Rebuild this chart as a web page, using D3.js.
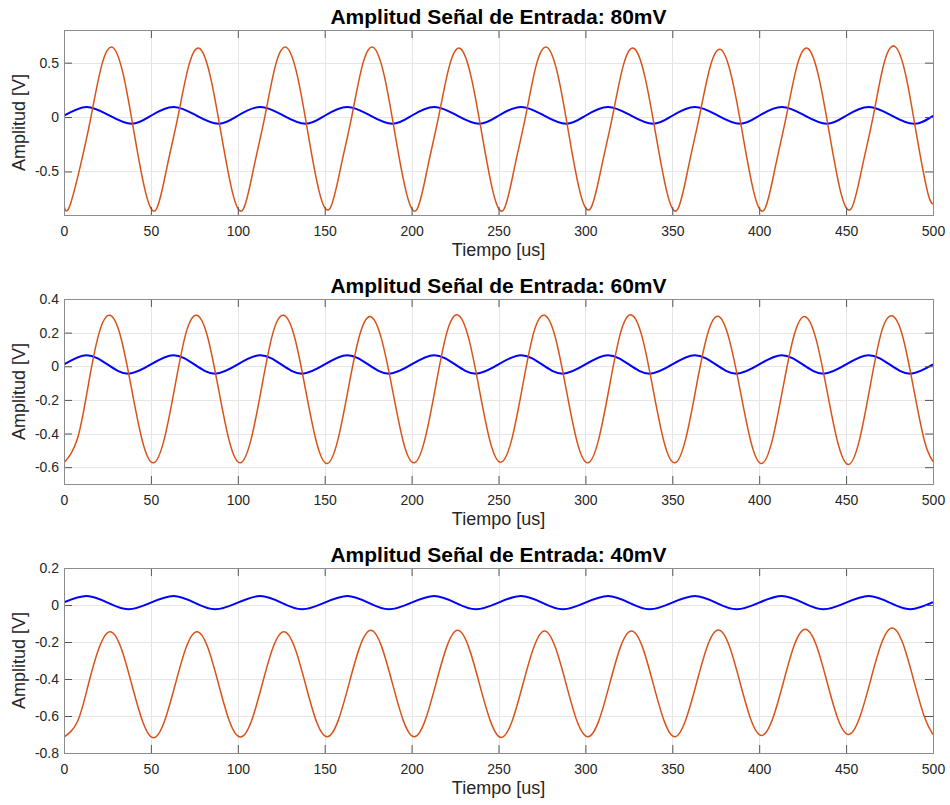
<!DOCTYPE html>
<html>
<head>
<meta charset="utf-8">
<script src="https://cdn.jsdelivr.net/npm/d3@7"></script>
<style>
body { margin: 0; background: #fff; }
svg text { font-family: "Liberation Sans", Arial, Helvetica, sans-serif; }
</style>
</head>
<body>
<svg id="chart" width="950" height="805"></svg>
<script>
// ---- data (tiempo in us, amplitud in V) ----
const xTicks = [0, 50, 100, 150, 200, 250, 300, 350, 400, 450, 500];
const yTicks80 = [-0.5, 0, 0.5];
const yTicks60 = [-0.6, -0.4, -0.2, 0, 0.2, 0.4];
const yTicks40 = [-0.8, -0.6, -0.4, -0.2, 0, 0.2];

// 80 mV input (blue = entrada, orange = salida)
const tiempoEntrada80 = [0, 13, 26, 39, 50, 63, 76, 89, 100, 113, 126, 139, 150, 163, 176, 189,
	200, 213, 226, 239, 250, 263, 276, 289, 300, 313, 326, 339, 350, 363, 376, 389,
	400, 413, 426, 439, 450, 463, 476, 489, 500];
const entrada80 = [0.012, 0.093, 0.015, -0.062, 0.012, 0.093, 0.015, -0.062, 0.012, 0.093, 0.015, -0.062,
	0.012, 0.093, 0.015, -0.062, 0.012, 0.093, 0.015, -0.062, 0.012, 0.093, 0.015, -0.062,
	0.012, 0.093, 0.015, -0.062, 0.012, 0.093, 0.015, -0.062, 0.012, 0.093, 0.015, -0.062,
	0.012, 0.093, 0.015, -0.062, 0.012];
const tiempoSalida80 = [0,
	3, 9.25, 15.5, 21.75, 28, 34.25, 40.5, 46.75,
	53, 59.25, 65.5, 71.75, 78, 84.25, 90.5, 96.75,
	103, 109.25, 115.5, 121.75, 128, 134.25, 140.5, 146.75,
	153, 159.25, 165.5, 171.75, 178, 184.25, 190.5, 196.75,
	203, 209.25, 215.5, 221.75, 228, 234.25, 240.5, 246.75,
	253, 259.25, 265.5, 271.75, 278, 284.25, 290.5, 296.75,
	303, 309.25, 315.5, 321.75, 328, 334.25, 340.5, 346.75,
	353, 359.25, 365.5, 371.75, 378, 384.25, 390.5, 396.75,
	403, 409.25, 415.5, 421.75, 428, 434.25, 440.5, 446.75,
	453, 459.25, 465.5, 471.75, 478, 484.25, 490.5, 496.75,
	500];
const salida80 = [-0.82,
	-0.83, -0.46, 0.00, 0.48, 0.64, 0.38, -0.16, -0.68,
	-0.85, -0.46, 0.00, 0.47, 0.63, 0.37, -0.16, -0.68,
	-0.85, -0.46, 0.00, 0.48, 0.64, 0.38, -0.16, -0.68,
	-0.84, -0.46, 0.00, 0.48, 0.64, 0.38, -0.16, -0.68,
	-0.85, -0.46, 0.00, 0.47, 0.63, 0.37, -0.16, -0.68,
	-0.85, -0.46, 0.00, 0.48, 0.64, 0.38, -0.16, -0.68,
	-0.84, -0.46, 0.00, 0.47, 0.63, 0.37, -0.16, -0.68,
	-0.85, -0.46, 0.00, 0.46, 0.62, 0.36, -0.16, -0.68,
	-0.85, -0.46, 0.00, 0.47, 0.63, 0.37, -0.16, -0.68,
	-0.84, -0.46, 0.00, 0.49, 0.65, 0.39, -0.16, -0.68,
	-0.80];

// 60 mV input
const tiempoEntrada60 = [0, 13, 25, 37, 50, 63, 75, 87, 100, 113, 125, 137, 150, 163, 175, 187,
	200, 213, 225, 237, 250, 263, 275, 287, 300, 313, 325, 337, 350, 363, 375, 387,
	400, 413, 425, 437, 450, 463, 475, 487, 500];
const entrada60 = [0.011, 0.066, 0.011, -0.044, 0.011, 0.066, 0.011, -0.044, 0.011, 0.066, 0.011, -0.044,
	0.011, 0.066, 0.011, -0.044, 0.011, 0.066, 0.011, -0.044, 0.011, 0.066, 0.011, -0.044,
	0.011, 0.066, 0.011, -0.044, 0.011, 0.066, 0.011, -0.044, 0.011, 0.066, 0.011, -0.044,
	0.011, 0.066, 0.011, -0.044, 0.011];
const tiempoSalida60 = [0, 7.75, 14, 20.25, 26.5, 32.75, 39, 45.25,
	51.5, 57.75, 64, 70.25, 76.5, 82.75, 89, 95.25,
	101.5, 107.75, 114, 120.25, 126.5, 132.75, 139, 145.25,
	151.5, 157.75, 164, 170.25, 176.5, 182.75, 189, 195.25,
	201.5, 207.75, 214, 220.25, 226.5, 232.75, 239, 245.25,
	251.5, 257.75, 264, 270.25, 276.5, 282.75, 289, 295.25,
	301.5, 307.75, 314, 320.25, 326.5, 332.75, 339, 345.25,
	351.5, 357.75, 364, 370.25, 376.5, 382.75, 389, 395.25,
	401.5, 407.75, 414, 420.25, 426.5, 432.75, 439, 445.25,
	451.5, 457.75, 464, 470.25, 476.5, 482.75, 489, 495.25,
	500];
const salida60 = [
	-0.574, -0.43, -0.11, 0.20, 0.303, 0.17, -0.14, -0.45,
	-0.574, -0.43, -0.11, 0.20, 0.303, 0.17, -0.14, -0.45,
	-0.574, -0.43, -0.11, 0.20, 0.303, 0.17, -0.14, -0.45,
	-0.578, -0.43, -0.11, 0.19, 0.295, 0.16, -0.14, -0.45,
	-0.574, -0.43, -0.11, 0.20, 0.305, 0.17, -0.14, -0.45,
	-0.570, -0.43, -0.11, 0.20, 0.303, 0.17, -0.14, -0.45,
	-0.574, -0.43, -0.11, 0.20, 0.305, 0.17, -0.14, -0.45,
	-0.574, -0.43, -0.11, 0.19, 0.297, 0.16, -0.14, -0.45,
	-0.578, -0.43, -0.11, 0.19, 0.295, 0.16, -0.145, -0.455,
	-0.584, -0.435, -0.11, 0.20, 0.300, 0.17, -0.14, -0.45,
	-0.566];

// 40 mV input
const tiempoEntrada40 = [0, 13, 25, 37, 50, 63, 75, 87, 100, 113, 125, 137, 150, 163, 175, 187,
	200, 213, 225, 237, 250, 263, 275, 287, 300, 313, 325, 337, 350, 363, 375, 387,
	400, 413, 425, 437, 450, 463, 475, 487, 500];
const entrada40 = [0.015, 0.049, 0.013, -0.023, 0.013, 0.049, 0.013, -0.023, 0.013, 0.049, 0.013, -0.023,
	0.013, 0.049, 0.013, -0.023, 0.013, 0.049, 0.013, -0.023, 0.013, 0.049, 0.013, -0.023,
	0.013, 0.049, 0.013, -0.023, 0.013, 0.049, 0.013, -0.023, 0.013, 0.049, 0.013, -0.023,
	0.013, 0.049, 0.013, -0.023, 0.015];
const tiempoSalida40 = [0, 7.75, 14, 20.25, 26.5, 32.75, 39, 45.25,
	51.5, 57.75, 64, 70.25, 76.5, 82.75, 89, 95.25,
	101.5, 107.75, 114, 120.25, 126.5, 132.75, 139, 145.25,
	151.5, 157.75, 164, 170.25, 176.5, 182.75, 189, 195.25,
	201.5, 207.75, 214, 220.25, 226.5, 232.75, 239, 245.25,
	251.5, 257.75, 264, 270.25, 276.5, 282.75, 289, 295.25,
	301.5, 307.75, 314, 320.25, 326.5, 332.75, 339, 345.25,
	351.5, 357.75, 364, 370.25, 376.5, 382.75, 389, 395.25,
	401.5, 407.75, 414, 420.25, 426.5, 432.75, 439, 445.25,
	451.5, 457.75, 464, 470.25, 476.5, 482.75, 489, 495.25,
	500];
const salida40 = [
	-0.714, -0.63, -0.43, -0.23, -0.144, -0.23, -0.43, -0.63,
	-0.718, -0.63, -0.43, -0.23, -0.144, -0.23, -0.43, -0.63,
	-0.714, -0.63, -0.43, -0.23, -0.144, -0.23, -0.43, -0.63,
	-0.712, -0.625, -0.425, -0.225, -0.137, -0.225, -0.425, -0.625,
	-0.712, -0.625, -0.425, -0.225, -0.137, -0.225, -0.425, -0.625,
	-0.716, -0.63, -0.43, -0.23, -0.140, -0.23, -0.43, -0.63,
	-0.712, -0.625, -0.425, -0.225, -0.140, -0.225, -0.425, -0.625,
	-0.712, -0.62, -0.42, -0.22, -0.135, -0.22, -0.42, -0.62,
	-0.705, -0.615, -0.415, -0.215, -0.131, -0.215, -0.415, -0.615,
	-0.700, -0.61, -0.41, -0.21, -0.124, -0.21, -0.41, -0.61,
	-0.700];

// ---- layout ----
const left = 64, right = 933;
const panelHeight = 185;

const panels = [
	{ title: "Amplitud Señal de Entrada: 80mV", top: 30, yLim: [-0.9, 0.8], yTicks: yTicks80,
	  tIn: tiempoEntrada80, vIn: entrada80, tOut: tiempoSalida80, vOut: salida80 },
	{ title: "Amplitud Señal de Entrada: 60mV", top: 299, yLim: [-0.7, 0.4], yTicks: yTicks60,
	  tIn: tiempoEntrada60, vIn: entrada60, tOut: tiempoSalida60, vOut: salida60 },
	{ title: "Amplitud Señal de Entrada: 40mV", top: 568, yLim: [-0.8, 0.2], yTicks: yTicks40,
	  tIn: tiempoEntrada40, vIn: entrada40, tOut: tiempoSalida40, vOut: salida40 }
];

const svg = d3.select("#chart");

panels.forEach((p, idx) => drawPanel(p, idx));

function drawPanel(p, idx)
{
	let top = p.top;
	let bottom = p.top + panelHeight;

	let x = d3.scaleLinear().domain([0, 500]).range([left, right]);
	let y = d3.scaleLinear().domain(p.yLim).range([bottom, top]);

	let g = svg.append("g").attr("class", "panel" + idx);

	// grid
	g.append("g").selectAll("line")
		.data(xTicks.slice(1, -1))
		.join("line")
		.attr("x1", d => Math.round(x(d)) + 0.5).attr("x2", d => Math.round(x(d)) + 0.5)
		.attr("y1", top).attr("y2", bottom)
		.attr("stroke", "#e6e6e6");
	g.append("g").selectAll("line")
		.data(p.yTicks)
		.join("line")
		.attr("x1", left).attr("x2", right)
		.attr("y1", d => Math.round(y(d)) + 0.5).attr("y2", d => Math.round(y(d)) + 0.5)
		.attr("stroke", "#e6e6e6");

	// clip for the traces
	svg.append("clipPath").attr("id", "clip" + idx)
		.append("rect")
		.attr("x", left).attr("y", top)
		.attr("width", right - left).attr("height", bottom - top);

	let plot = g.append("g").attr("clip-path", "url(#clip" + idx + ")");

	let inLine = d3.line()
		.x((d, i) => x(p.tIn[i]))
		.y(d => y(d))
		.curve(d3.curveNatural);
	let outLine = d3.line()
		.x((d, i) => x(p.tOut[i]))
		.y(d => y(d))
		.curve(d3.curveNatural);

	plot.append("path")
		.attr("d", inLine(p.vIn))
		.attr("fill", "none")
		.attr("stroke", "#0000ff")
		.attr("stroke-width", 2);
	plot.append("path")
		.attr("d", outLine(p.vOut))
		.attr("fill", "none")
		.attr("stroke", "#d95319")
		.attr("stroke-width", 1.5);

	// axes (ticks inward on all four sides)
	let fmt = d => String(d);
	let axB = g.append("g").attr("transform", `translate(0,${bottom})`)
		.call(d3.axisBottom(x).tickValues(xTicks).tickFormat(fmt).tickSizeInner(-8).tickSizeOuter(0).tickPadding(11));
	let axT = g.append("g").attr("transform", `translate(0,${top})`)
		.call(d3.axisTop(x).tickValues(xTicks).tickFormat("").tickSizeInner(-8).tickSizeOuter(0));
	let axL = g.append("g").attr("transform", `translate(${left},0)`)
		.call(d3.axisLeft(y).tickValues(p.yTicks).tickFormat(fmt).tickSizeInner(-8).tickSizeOuter(0).tickPadding(5));
	let axR = g.append("g").attr("transform", `translate(${right},0)`)
		.call(d3.axisRight(y).tickValues(p.yTicks).tickFormat("").tickSizeInner(-8).tickSizeOuter(0));

	[axB, axT, axL, axR].forEach(a => {
		a.select(".domain").remove();
		a.selectAll(".tick line").attr("stroke", "#555");
		a.selectAll(".tick text").attr("fill", "#262626").style("font-size", "14px");
	});

	// box
	g.append("rect")
		.attr("x", left + 0.5).attr("y", top + 0.5)
		.attr("width", right - left).attr("height", bottom - top)
		.attr("fill", "none")
		.attr("stroke", "#8c8c8c");

	// title and labels
	g.append("text")
		.attr("x", (left + right) / 2).attr("y", top - 6)
		.attr("text-anchor", "middle")
		.style("font-size", "21px").style("font-weight", "bold")
		.attr("fill", "#000")
		.text(p.title);

	g.append("text")
		.attr("x", (left + right) / 2).attr("y", bottom + 41)
		.attr("text-anchor", "middle")
		.style("font-size", "18px")
		.attr("fill", "#262626")
		.text("Tiempo [us]");

	g.append("text")
		.attr("transform", `translate(25,${(top + bottom) / 2}) rotate(-90)`)
		.attr("text-anchor", "middle")
		.style("font-size", "18px")
		.attr("fill", "#262626")
		.text("Amplitud [V]");
}
</script>
</body>
</html>
